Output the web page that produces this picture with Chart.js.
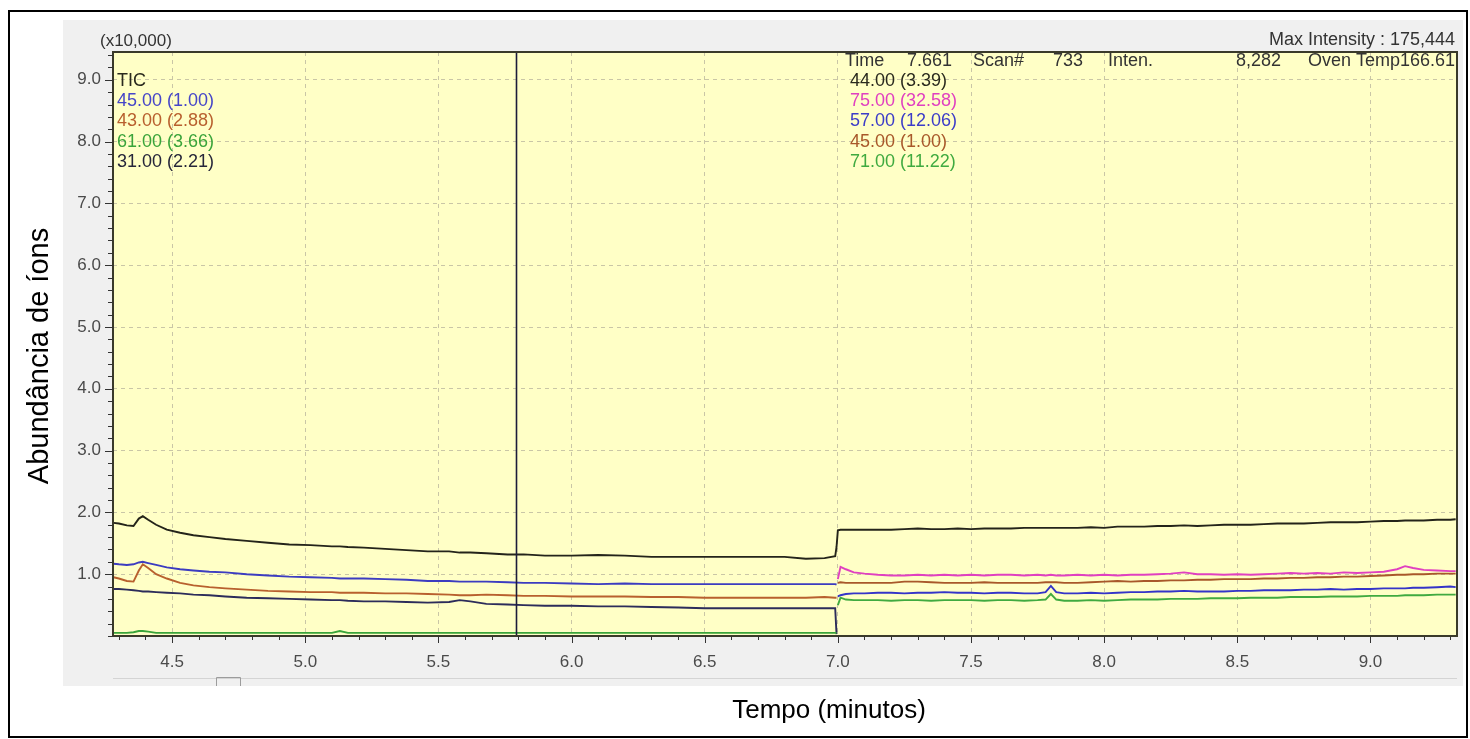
<!DOCTYPE html>
<html>
<head>
<meta charset="utf-8">
<script src="https://cdn.jsdelivr.net/npm/chart.js@4.4.1/dist/chart.umd.min.js"></script>
<style>
  html, body { margin: 0; padding: 0; background: #fff; }
  #wrap { width: 1470px; height: 739px; }
</style>
</head>
<body>
<div id="wrap"><canvas id="graph" width="1470" height="739"></canvas></div>
<script>
// Segmento 1 (antes de 7.0 min): TIC + íons 45, 43, 61, 31  — abundância em x10.000
const tempoA = [4.28, 4.30, 4.33, 4.355, 4.375, 4.39, 4.41, 4.44, 4.48, 4.53, 4.58, 4.64, 4.70, 4.78, 4.86, 4.94,
  5.02, 5.10, 5.13, 5.16, 5.22, 5.30, 5.38, 5.46, 5.54, 5.58, 5.62, 5.68, 5.76, 5.82, 5.90, 6.00, 6.10, 6.20,
  6.30, 6.40, 6.50, 6.60, 6.70, 6.80, 6.88, 6.95, 6.99, 6.995];
const ticA = [1.83, 1.82, 1.79, 1.78, 1.90, 1.94, 1.88, 1.80, 1.72, 1.67, 1.63, 1.60, 1.57, 1.54, 1.51, 1.48,
  1.47, 1.45, 1.45, 1.44, 1.43, 1.41, 1.39, 1.37, 1.37, 1.35, 1.35, 1.34, 1.32, 1.32, 1.30, 1.30, 1.31, 1.30,
  1.28, 1.28, 1.28, 1.28, 1.28, 1.28, 1.25, 1.26, 1.29, 1.44];
const ion45A = [1.17, 1.16, 1.15, 1.16, 1.19, 1.20, 1.18, 1.15, 1.11, 1.08, 1.06, 1.04, 1.03, 1.00, 0.98, 0.96,
  0.95, 0.94, 0.93, 0.93, 0.93, 0.92, 0.91, 0.89, 0.89, 0.88, 0.88, 0.88, 0.87, 0.86, 0.86, 0.85, 0.84, 0.85,
  0.84, 0.84, 0.84, 0.84, 0.84, 0.84, 0.84, 0.84, 0.84, 0.83];
const ion43A = [0.95, 0.93, 0.89, 0.88, 1.06, 1.16, 1.10, 1.00, 0.93, 0.86, 0.82, 0.79, 0.77, 0.75, 0.73, 0.72,
  0.71, 0.71, 0.70, 0.70, 0.70, 0.69, 0.69, 0.68, 0.67, 0.66, 0.66, 0.67, 0.66, 0.65, 0.65, 0.64, 0.64, 0.64,
  0.63, 0.63, 0.62, 0.62, 0.62, 0.62, 0.62, 0.63, 0.62, 0.62];
const ion61A = [0.05, 0.05, 0.05, 0.06, 0.08, 0.08, 0.07, 0.05, 0.05, 0.05, 0.05, 0.05, 0.05, 0.05, 0.05, 0.05,
  0.05, 0.05, 0.08, 0.05, 0.05, 0.05, 0.05, 0.05, 0.05, 0.05, 0.05, 0.05, 0.05, 0.05, 0.05, 0.05, 0.05, 0.05,
  0.05, 0.05, 0.05, 0.05, 0.05, 0.05, 0.05, 0.05, 0.05, 0.05];
const ion31A = [0.76, 0.76, 0.75, 0.74, 0.73, 0.72, 0.72, 0.71, 0.70, 0.69, 0.67, 0.66, 0.64, 0.62, 0.61, 0.60,
  0.59, 0.58, 0.58, 0.57, 0.56, 0.56, 0.55, 0.54, 0.55, 0.58, 0.56, 0.52, 0.51, 0.50, 0.49, 0.49, 0.48, 0.48,
  0.47, 0.46, 0.45, 0.45, 0.45, 0.45, 0.45, 0.45, 0.45, 0.03];

// Segmento 2 (depois de 7.0 min): TIC + íons 75, 57, 45, 71
const tempoB = [7.00, 7.01, 7.03, 7.06, 7.10, 7.15, 7.20, 7.25, 7.30, 7.35, 7.40, 7.45, 7.50, 7.55, 7.60, 7.65,
  7.70, 7.75, 7.78, 7.80, 7.82, 7.85, 7.90, 7.95, 8.00, 8.05, 8.10, 8.15, 8.20, 8.25, 8.30, 8.35, 8.40, 8.45,
  8.50, 8.55, 8.60, 8.65, 8.70, 8.75, 8.80, 8.85, 8.90, 8.95, 9.00, 9.05, 9.10, 9.13, 9.16, 9.20, 9.25, 9.30, 9.32];
const ticB = [1.71, 1.72, 1.72, 1.72, 1.72, 1.72, 1.72, 1.73, 1.74, 1.73, 1.73, 1.74, 1.73, 1.74, 1.74, 1.74,
  1.75, 1.75, 1.75, 1.75, 1.75, 1.75, 1.75, 1.76, 1.75, 1.77, 1.77, 1.77, 1.78, 1.78, 1.79, 1.78, 1.79, 1.80,
  1.80, 1.80, 1.81, 1.82, 1.82, 1.82, 1.83, 1.84, 1.84, 1.84, 1.85, 1.86, 1.86, 1.87, 1.87, 1.87, 1.88, 1.88, 1.89];
const ion75B = [0.92, 1.12, 1.08, 1.03, 1.01, 0.99, 0.98, 0.98, 0.99, 0.98, 0.99, 0.98, 0.99, 0.98, 0.99, 0.99,
  0.98, 0.99, 0.98, 0.99, 0.98, 0.98, 0.99, 0.98, 0.99, 0.98, 0.99, 0.99, 1.00, 1.01, 1.03, 1.00, 1.00, 0.99,
  1.00, 0.99, 1.00, 1.01, 1.02, 1.01, 1.02, 1.01, 1.03, 1.02, 1.03, 1.04, 1.08, 1.13, 1.10, 1.07, 1.06, 1.05, 1.05];
const ion45B = [0.86, 0.87, 0.86, 0.86, 0.86, 0.86, 0.86, 0.88, 0.88, 0.87, 0.86, 0.86, 0.86, 0.87, 0.86, 0.86,
  0.86, 0.86, 0.87, 0.87, 0.87, 0.86, 0.86, 0.87, 0.88, 0.89, 0.88, 0.89, 0.89, 0.90, 0.90, 0.91, 0.91, 0.92,
  0.92, 0.92, 0.93, 0.93, 0.94, 0.94, 0.95, 0.95, 0.96, 0.96, 0.97, 0.98, 0.99, 0.99, 1.00, 1.00, 1.01, 1.01, 1.01];
const ion57B = [0.64, 0.66, 0.68, 0.69, 0.69, 0.70, 0.70, 0.69, 0.70, 0.70, 0.71, 0.70, 0.70, 0.69, 0.70, 0.70,
  0.69, 0.69, 0.71, 0.81, 0.71, 0.69, 0.69, 0.70, 0.69, 0.70, 0.71, 0.71, 0.72, 0.72, 0.73, 0.72, 0.72, 0.72,
  0.73, 0.73, 0.74, 0.74, 0.74, 0.75, 0.75, 0.76, 0.75, 0.76, 0.76, 0.77, 0.77, 0.77, 0.78, 0.78, 0.79, 0.80, 0.79];
const ion71B = [0.50, 0.62, 0.59, 0.58, 0.58, 0.58, 0.57, 0.58, 0.58, 0.57, 0.58, 0.58, 0.58, 0.57, 0.58, 0.58,
  0.57, 0.58, 0.59, 0.68, 0.59, 0.57, 0.57, 0.58, 0.57, 0.58, 0.59, 0.59, 0.59, 0.60, 0.60, 0.60, 0.61, 0.61,
  0.61, 0.62, 0.62, 0.62, 0.63, 0.63, 0.63, 0.64, 0.64, 0.64, 0.65, 0.65, 0.65, 0.66, 0.66, 0.66, 0.67, 0.67, 0.67];

// rótulos dos eixos
const xLabels = ['4.5', '5.0', '5.5', '6.0', '6.5', '7.0', '7.5', '8.0', '8.5', '9.0'];
const yLabels = ['1.0', '2.0', '3.0', '4.0', '5.0', '6.0', '7.0', '8.0', '9.0'];

// legendas dos dois segmentos
const legendaA = ['TIC', '45.00 (1.00)', '43.00 (2.88)', '61.00 (3.66)', '31.00 (2.21)'];
const coresA = ['#2a2a1e', '#4646c8', '#b8602e', '#3aa43a', '#26263a'];
const legendaB = ['44.00 (3.39)', '75.00 (32.58)', '57.00 (12.06)', '45.00 (1.00)', '71.00 (11.22)'];
const coresB = ['#2a2a1e', '#e040c0', '#3c3cc8', '#a8582a', '#40aa40'];

const cursorTempo = 5.79;
const cabecalho = ['Time', '7.661', 'Scan#', '733', 'Inten.', '8,282', 'Oven Temp166.61'];

function pontos(t, v) {
    return t.map((x, i) => ({ x: x, y: v[i] }));
}

function serie(data, cor) {
    return { data: data, borderColor: cor, borderWidth: 1.9, pointRadius: 0, tension: 0, fill: false };
}

const datasets = [
    serie(pontos(tempoA, ion61A), '#3aa43a'),
    serie(pontos(tempoA, ion31A), '#2c2c5a'),
    serie(pontos(tempoA, ion43A), '#b8602e'),
    serie(pontos(tempoA, ion45A), '#3c3cc0'),
    serie(pontos(tempoB, ion71B), '#40aa40'),
    serie(pontos(tempoB, ion57B), '#3434c8'),
    serie(pontos(tempoB, ion45B), '#a8582a'),
    serie(pontos(tempoB, ion75B), '#e040c0'),
    serie(pontos(tempoA.concat(tempoB), ticA.concat(ticB)), '#24241a')
];

const fonte = '"Liberation Sans", Arial, sans-serif';

function isMajor(v) {
    return Math.abs(v * 2 - Math.round(v * 2)) < 1e-6 && v > 0;
}
function isMajorY(v) {
    return Math.abs(v - Math.round(v)) < 1e-6 && v > 0;
}

const moldura = {
    id: 'moldura',
    beforeDraw(chart) {
        const c = chart.ctx, a = chart.chartArea;
        c.save();
        c.fillStyle = '#ffffff';
        c.fillRect(0, 0, chart.width, chart.height);
        c.fillStyle = '#f0f0f0';
        c.fillRect(63, 20, 1400, 666);
        c.fillStyle = '#ffffc6';
        c.fillRect(a.left, a.top, a.right - a.left, a.bottom - a.top);
        // barra de rolagem embaixo
        c.strokeStyle = '#d4d4d4';
        c.lineWidth = 1;
        c.beginPath();
        c.moveTo(a.left, 678.5);
        c.lineTo(a.right, 678.5);
        c.stroke();
        c.strokeStyle = '#9c9c9c';
        c.beginPath();
        c.moveTo(216.5, 686);
        c.lineTo(216.5, 677.5);
        c.lineTo(240.5, 677.5);
        c.lineTo(240.5, 686);
        c.stroke();
        c.restore();
    },
    afterDatasetsDraw(chart) {
        const c = chart.ctx, a = chart.chartArea;
        const xs = chart.scales.x, ys = chart.scales.y;
        c.save();
        // linha do cursor
        const cx = Math.round(xs.getPixelForValue(cursorTempo)) + 0.5;
        c.strokeStyle = '#1c1c3a';
        c.lineWidth = 1.6;
        c.beginPath();
        c.moveTo(cx, a.top);
        c.lineTo(cx, a.bottom);
        c.stroke();

        // borda da área do gráfico
        c.strokeStyle = '#3a3a2a';
        c.lineWidth = 2;
        c.strokeRect(a.left, a.top, a.right - a.left, a.bottom - a.top);

        // marcas dos eixos
        c.lineWidth = 1;
        c.strokeStyle = '#333333';
        c.beginPath();
        xs.ticks.forEach(t => {
            const px = Math.round(xs.getPixelForValue(t.value)) + 0.5;
            c.moveTo(px, a.bottom);
            c.lineTo(px, a.bottom + (isMajor(t.value) ? 7 : 4));
        });
        ys.ticks.forEach(t => {
            const py = Math.round(ys.getPixelForValue(t.value)) + 0.5;
            c.moveTo(a.left, py);
            c.lineTo(a.left - (isMajorY(t.value) ? 8 : 5), py);
        });
        c.stroke();

        // textos do topo
        c.textBaseline = 'middle';
        c.font = '17px ' + fonte;
        c.fillStyle = '#333333';
        c.textAlign = 'left';
        c.fillText('(x10,000)', 100, 41);
        c.font = '18px ' + fonte;
        c.textAlign = 'right';
        c.fillText('Max Intensity : 175,444', 1455, 40);

        c.textAlign = 'left';
        c.fillText(cabecalho[0], 845, 61);
        c.fillText(cabecalho[1], 907, 61);
        c.fillText(cabecalho[2], 973, 61);
        c.fillText(cabecalho[3], 1053, 61);
        c.fillText(cabecalho[4], 1108, 61);
        c.textAlign = 'right';
        c.fillText(cabecalho[5], 1281, 61);
        c.fillText(cabecalho[6], 1455, 61);

        c.textAlign = 'left';
        legendaA.forEach((txt, i) => {
            c.fillStyle = coresA[i];
            c.fillText(txt, 117, 81 + i * 20.2);
        });
        legendaB.forEach((txt, i) => {
            c.fillStyle = coresB[i];
            c.fillText(txt, 850, 81 + i * 20.2);
        });

        // títulos dos eixos
        c.fillStyle = '#000000';
        c.font = '26px ' + fonte;
        c.textAlign = 'center';
        c.fillText('Tempo (minutos)', 829, 711);
        c.font = '29px ' + fonte;
        c.translate(40, 356);
        c.rotate(-Math.PI / 2);
        c.fillText('Abundância de íons', 0, 0);
        c.restore();
    },
    afterDraw(chart) {
        const c = chart.ctx;
        c.save();
        c.strokeStyle = '#000000';
        c.lineWidth = 2;
        c.strokeRect(9, 11, 1458, 726);
        c.restore();
    }
};

const ctx = document.getElementById('graph').getContext('2d');
const myChart = new Chart(ctx, {
    type: 'line',
    data: { datasets: datasets },
    plugins: [moldura],
    options: {
        responsive: false,
        animation: false,
        devicePixelRatio: 1,
        layout: { padding: { left: 64, top: 52, right: 13, bottom: 50 } },
        plugins: { legend: { display: false }, tooltip: { enabled: false } },
        scales: {
            x: {
                type: 'linear',
                min: 4.278,
                max: 9.325,
                afterBuildTicks: scale => {
                    const lista = [];
                    for (let k = 43; k <= 93; k++) lista.push({ value: k / 10 });
                    scale.ticks = lista;
                },
                afterFit: scale => { scale.height = 53; },
                ticks: {
                    autoSkip: false,
                    maxRotation: 0,
                    padding: 16,
                    color: '#4a4a4a',
                    font: { family: fonte, size: 17 },
                    callback: v => {
                        const s = Number(v).toFixed(1);
                        return xLabels.includes(s) ? s : '';
                    }
                },
                grid: {
                    drawTicks: false,
                    color: c => isMajor(c.tick.value) ? '#c9c6a6' : 'rgba(0,0,0,0)',
                    lineWidth: 1
                },
                border: { display: false, dash: [4, 4] }
            },
            y: {
                min: 0,
                max: 9.45,
                afterBuildTicks: scale => {
                    const lista = [];
                    for (let k = 0; k <= 94; k += 2) lista.push({ value: k / 10 });
                    scale.ticks = lista;
                },
                afterFit: scale => { scale.width = 49; },
                ticks: {
                    autoSkip: false,
                    padding: 12,
                    color: '#4a4a4a',
                    font: { family: fonte, size: 17 },
                    callback: v => {
                        const s = Number(v).toFixed(1);
                        return yLabels.includes(s) ? s : '';
                    }
                },
                grid: {
                    drawTicks: false,
                    color: c => isMajorY(c.tick.value) ? '#c9c6a6' : 'rgba(0,0,0,0)',
                    lineWidth: 1
                },
                border: { display: false, dash: [4, 4] }
            }
        }
    }
});
</script>
</body>
</html>
